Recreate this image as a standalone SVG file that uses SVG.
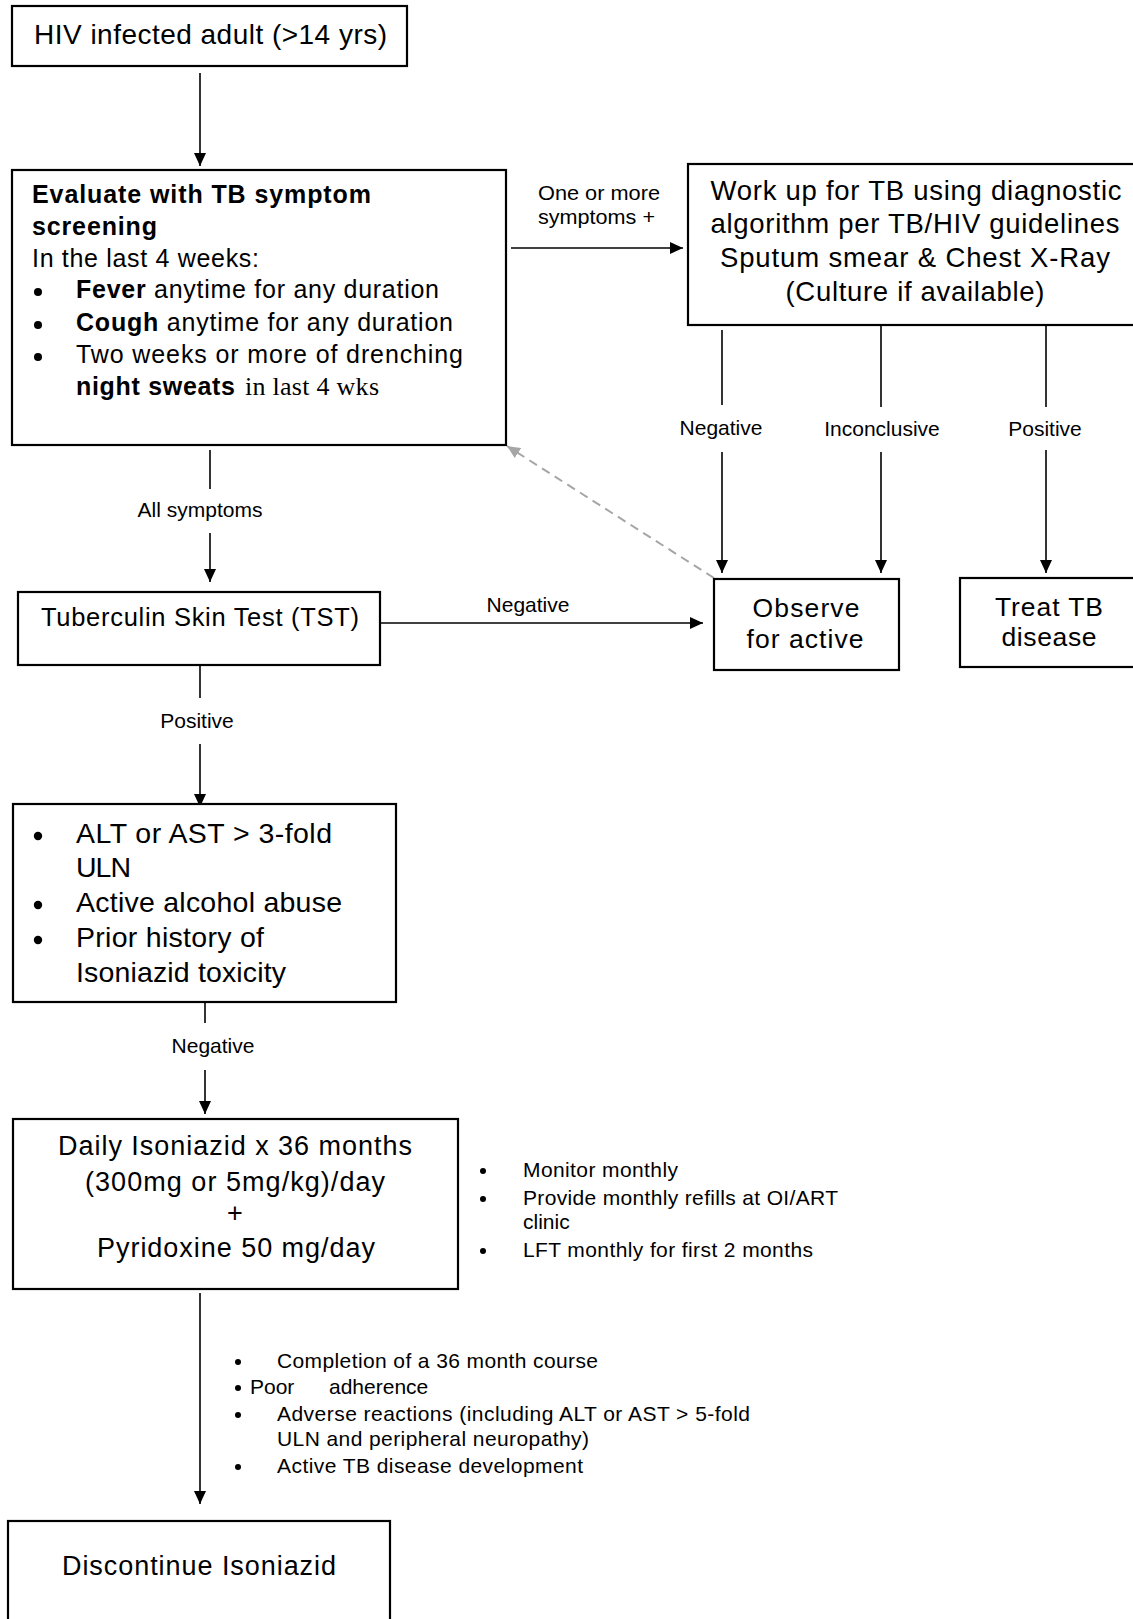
<svg xmlns="http://www.w3.org/2000/svg" width="1133" height="1619" viewBox="0 0 1133 1619">
<defs>
<style>
.box{fill:#fff;stroke:#000;stroke-width:2.2}
.t{font-family:"Liberation Sans",Arial,sans-serif;fill:#000}
.b{font-weight:bold}
.s{font-family:"Liberation Serif","Times New Roman",serif;fill:#000}
.lbl{font-family:"Liberation Sans",Arial,sans-serif;font-size:21px;fill:#000}
.ln{stroke:#000;stroke-width:1.6;fill:none}
.dash{stroke:#a6a6a6;stroke-width:2;stroke-dasharray:9 6;fill:none}
.dot{fill:#000}
</style>
<marker id="ah" viewBox="0 0 13 12" refX="13" refY="6" markerWidth="13" markerHeight="12" markerUnits="userSpaceOnUse" orient="auto">
<path d="M0,0 L13,6 L0,12 z" fill="#000"/>
</marker>
<marker id="ahg" viewBox="0 0 13 12" refX="13" refY="6" markerWidth="13" markerHeight="12" markerUnits="userSpaceOnUse" orient="auto">
<path d="M0,0 L13,6 L0,12 z" fill="#a6a6a6"/>
</marker>
</defs>
<rect width="1133" height="1619" fill="#fff"/>

<g id="connectors">
<line class="ln" x1="200" y1="73" x2="200" y2="166" marker-end="url(#ah)"/>
<line class="ln" x1="511" y1="248" x2="683" y2="248" marker-end="url(#ah)"/>
<text class="lbl" x="538" y="200" textLength="122" lengthAdjust="spacingAndGlyphs">One or more</text>
<text class="lbl" x="538" y="224" textLength="117" lengthAdjust="spacingAndGlyphs">symptoms +</text>

<line class="ln" x1="722" y1="330" x2="722" y2="405"/>
<line class="ln" x1="722" y1="452" x2="722" y2="573" marker-end="url(#ah)"/>
<text class="lbl" x="721" y="435" text-anchor="middle">Negative</text>

<line class="ln" x1="881" y1="326" x2="881" y2="407"/>
<line class="ln" x1="881" y1="452" x2="881" y2="573" marker-end="url(#ah)"/>
<text class="lbl" x="882" y="436" text-anchor="middle">Inconclusive</text>

<line class="ln" x1="1046" y1="326" x2="1046" y2="407"/>
<line class="ln" x1="1046" y1="450" x2="1046" y2="573" marker-end="url(#ah)"/>
<text class="lbl" x="1045" y="436" text-anchor="middle">Positive</text>

<line class="dash" x1="714" y1="578" x2="507" y2="446" marker-end="url(#ahg)"/>

<line class="ln" x1="210" y1="450" x2="210" y2="489"/>
<text class="lbl" x="200" y="517" text-anchor="middle">All symptoms</text>
<line class="ln" x1="210" y1="533" x2="210" y2="582" marker-end="url(#ah)"/>

<line class="ln" x1="380" y1="623" x2="703" y2="623" marker-end="url(#ah)"/>
<text class="lbl" x="528" y="612" text-anchor="middle">Negative</text>

<line class="ln" x1="200" y1="665" x2="200" y2="698"/>
<text class="lbl" x="197" y="728" text-anchor="middle">Positive</text>
<line class="ln" x1="200" y1="744" x2="200" y2="807" marker-end="url(#ah)"/>

<line class="ln" x1="205" y1="1002" x2="205" y2="1023"/>
<text class="lbl" x="213" y="1053" text-anchor="middle">Negative</text>
<line class="ln" x1="205" y1="1070" x2="205" y2="1114" marker-end="url(#ah)"/>

<line class="ln" x1="200" y1="1293" x2="200" y2="1504" marker-end="url(#ah)"/>
</g>

<g id="node-hiv">
<rect class="box" x="12" y="6" width="395" height="60"/>
<text class="t" x="34" y="44" font-size="28" textLength="353" lengthAdjust="spacing">HIV infected adult (&gt;14 yrs)</text>
</g>

<g id="node-evaluate">
<rect class="box" x="12" y="170" width="494" height="275"/>
<text class="t b" x="32" y="203" font-size="25" textLength="339" lengthAdjust="spacing">Evaluate with TB symptom</text>
<text class="t b" x="32" y="235" font-size="25" textLength="125" lengthAdjust="spacing">screening</text>
<text class="t" x="32" y="267" font-size="25" textLength="227" lengthAdjust="spacing">In the last 4 weeks:</text>
<circle class="dot" cx="38" cy="292" r="4"/>
<text class="t" x="76" y="298" font-size="25" textLength="363" lengthAdjust="spacing"><tspan font-weight="bold">Fever</tspan> anytime for any duration</text>
<circle class="dot" cx="38" cy="325" r="4"/>
<text class="t" x="76" y="331" font-size="25" textLength="377" lengthAdjust="spacing"><tspan font-weight="bold">Cough</tspan> anytime for any duration</text>
<circle class="dot" cx="38" cy="357" r="4"/>
<text class="t" x="76" y="363" font-size="25" textLength="387" lengthAdjust="spacing">Two weeks or more of drenching</text>
<text class="t b" x="76" y="395" font-size="25" textLength="159" lengthAdjust="spacing">night sweats</text>
<text class="s" x="245" y="395" font-size="26" textLength="134" lengthAdjust="spacing">in last 4 wks</text>
</g>

<g id="node-workup">
<rect class="box" x="688" y="164" width="470" height="161"/>
<text class="t" x="916" y="200" font-size="27.5" text-anchor="middle" textLength="411" lengthAdjust="spacing">Work up for TB using diagnostic</text>
<text class="t" x="915" y="233" font-size="27.5" text-anchor="middle" textLength="409" lengthAdjust="spacing">algorithm per TB/HIV guidelines</text>
<text class="t" x="915" y="267" font-size="27.5" text-anchor="middle" textLength="390" lengthAdjust="spacing">Sputum smear &amp; Chest X-Ray</text>
<text class="t" x="915" y="301" font-size="27.5" text-anchor="middle" textLength="259" lengthAdjust="spacing">(Culture if available)</text>
</g>

<g id="node-tst">
<rect class="box" x="18" y="592" width="362" height="73"/>
<text class="t" x="41" y="626" font-size="25.5" textLength="318" lengthAdjust="spacing">Tuberculin Skin Test (TST)</text>
</g>

<g id="node-observe">
<rect class="box" x="714" y="579" width="185" height="91"/>
<text class="t" x="806" y="617" font-size="26.5" text-anchor="middle" textLength="107" lengthAdjust="spacing">Observe</text>
<text class="t" x="805" y="648" font-size="26.5" text-anchor="middle" textLength="117" lengthAdjust="spacing">for active</text>
</g>

<g id="node-treat">
<rect class="box" x="960" y="578" width="200" height="89"/>
<text class="t" x="1049" y="616" font-size="26.5" text-anchor="middle" textLength="108" lengthAdjust="spacing">Treat TB</text>
<text class="t" x="1049" y="646" font-size="26.5" text-anchor="middle" textLength="95" lengthAdjust="spacing">disease</text>
</g>

<g id="node-contra">
<rect class="box" x="13" y="804" width="383" height="198"/>
<circle class="dot" cx="38" cy="836" r="4.2"/>
<text class="t" x="76" y="843" font-size="28.5" textLength="256" lengthAdjust="spacing">ALT or AST &gt; 3-fold</text>
<text class="t" x="76" y="877" font-size="28.5" textLength="55" lengthAdjust="spacing">ULN</text>
<circle class="dot" cx="38" cy="905" r="4.2"/>
<text class="t" x="76" y="912" font-size="28.5" textLength="266" lengthAdjust="spacing">Active alcohol abuse</text>
<circle class="dot" cx="38" cy="940" r="4.2"/>
<text class="t" x="76" y="947" font-size="28.5" textLength="188" lengthAdjust="spacing">Prior history of</text>
<text class="t" x="76" y="982" font-size="28.5" textLength="210" lengthAdjust="spacing">Isoniazid toxicity</text>
</g>

<g id="node-daily">
<rect class="box" x="13" y="1119" width="445" height="170"/>
<text class="t" x="235" y="1155" font-size="27" text-anchor="middle" textLength="354" lengthAdjust="spacing">Daily Isoniazid x 36 months</text>
<text class="t" x="235" y="1191" font-size="27" text-anchor="middle" textLength="300" lengthAdjust="spacing">(300mg or 5mg/kg)/day</text>
<text class="t" x="235" y="1222" font-size="27" text-anchor="middle">+</text>
<text class="t" x="236" y="1257" font-size="27" text-anchor="middle" textLength="278" lengthAdjust="spacing">Pyridoxine 50 mg/day</text>
</g>

<g id="note-monitor">
<circle class="dot" cx="483" cy="1171" r="3"/>
<text class="lbl" x="523" y="1177" textLength="155" lengthAdjust="spacing">Monitor monthly</text>
<circle class="dot" cx="483" cy="1199" r="3"/>
<text class="lbl" x="523" y="1205" textLength="315" lengthAdjust="spacing">Provide monthly refills at OI/ART</text>
<text class="lbl" x="523" y="1229">clinic</text>
<circle class="dot" cx="483" cy="1251" r="3"/>
<text class="lbl" x="523" y="1257" textLength="290" lengthAdjust="spacing">LFT monthly for first 2 months</text>
</g>

<g id="note-stop">
<circle class="dot" cx="238" cy="1362" r="3"/>
<text class="lbl" x="277" y="1368" textLength="321" lengthAdjust="spacing">Completion of a 36 month course</text>
<circle class="dot" cx="238" cy="1388" r="3"/>
<text class="lbl" y="1394"><tspan x="250">Poor</tspan> <tspan x="329">adherence</tspan></text>
<circle class="dot" cx="238" cy="1415" r="3"/>
<text class="lbl" x="277" y="1421" textLength="473" lengthAdjust="spacing">Adverse reactions (including ALT or AST &gt; 5-fold</text>
<text class="lbl" x="277" y="1446" textLength="312" lengthAdjust="spacing">ULN and peripheral neuropathy)</text>
<circle class="dot" cx="238" cy="1467" r="3"/>
<text class="lbl" x="277" y="1473" textLength="306" lengthAdjust="spacing">Active TB disease development</text>
</g>

<g id="node-discontinue">
<rect class="box" x="8" y="1521" width="382" height="130"/>
<text class="t" x="62" y="1575" font-size="27" textLength="274" lengthAdjust="spacing">Discontinue Isoniazid</text>
</g>
</svg>
